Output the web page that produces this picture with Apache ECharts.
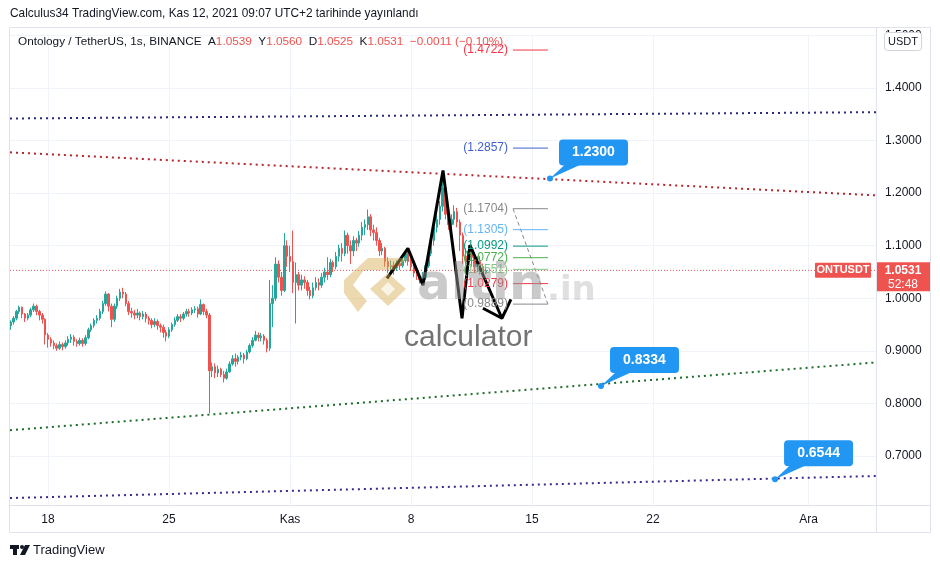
<!DOCTYPE html>
<html><head><meta charset="utf-8">
<script src="https://cdn.jsdelivr.net/npm/echarts@6/dist/echarts.min.js"></script>
<style>html,body{margin:0;padding:0;background:#fff}#c{width:940px;height:568px}</style>
</head><body><div id="c"></div>
<script>
// ---------- DATA (time = days since 1 Oct 2021 00:00, 4-hour candles) ----------
const startTime = 14 + 20 / 24;       // Oct 15 20:00
const stepDays = 4 / 24;
const firstOpen = 0.948;
const closes = [
  0.955,
  0.962,0.975,0.983,0.970,0.962,0.968,  // Oct16
  0.978,0.985,0.975,0.968,0.960,0.930,  // Oct17
  0.922,0.915,0.910,0.905,0.912,0.908,  // Oct18
  0.915,0.922,0.926,0.918,0.914,0.920,  // Oct19
  0.914,0.925,0.940,0.948,0.958,0.962,  // Oct20
  0.975,0.990,1.008,0.985,0.960,0.985,  // Oct21
  1.000,1.012,1.008,0.990,0.975,0.972,  // Oct22
  0.968,0.972,0.965,0.970,0.962,0.958,  // Oct23
  0.950,0.956,0.948,0.945,0.935,0.928,  // Oct24
  0.940,0.950,0.958,0.965,0.962,0.970,  // Oct25
  0.975,0.972,0.978,0.980,0.970,0.988,  // Oct26
  0.975,0.968,0.862,0.870,0.858,0.865,  // Oct27
  0.855,0.848,0.860,0.875,0.885,0.880,  // Oct28
  0.888,0.892,0.885,0.898,0.910,0.920,  // Oct29
  0.930,0.925,0.928,0.920,0.905,0.990,  // Oct30
  1.000,1.065,1.040,1.015,1.100,1.080,  // Oct31
  1.070,1.030,1.045,1.025,1.035,1.030,  // Nov1
  1.015,1.005,1.020,1.030,1.025,1.040,  // Nov2
  1.050,1.045,1.068,1.060,1.080,1.095,  // Nov3
  1.085,1.120,1.100,1.090,1.110,1.105,  // Nov4
  1.120,1.135,1.140,1.155,1.130,1.125,  // Nov5
  1.110,1.090,1.095,1.070,1.060,1.062,  // Nov6
  1.058,1.066,1.062,1.072,1.085,1.070,  // Nov7
  1.060,1.048,1.042,1.035,1.040,1.062,  // Nov8
  1.085,1.110,1.135,1.150,1.175,1.210,  // Nov9
  1.160,1.140,1.150,1.165,1.145,1.120,  // Nov10
  1.080,1.070,1.090,1.078,1.060,1.070,  // Nov11
  1.060,1.048,1.0531                    // Nov12
];
const highs = [
  0.958,
  0.966,0.978,0.986,0.984,0.972,0.972,
  0.982,0.990,0.988,0.978,0.972,0.962,
  0.934,0.926,0.920,0.914,0.918,0.916,
  0.920,0.928,0.932,0.930,0.922,0.925,
  0.924,0.930,0.944,0.952,0.962,0.968,
  0.980,0.995,1.013,1.010,0.990,0.990,
  1.005,1.018,1.020,1.012,0.995,0.982,
  0.978,0.980,0.975,0.976,0.974,0.966,
  0.962,0.962,0.960,0.952,0.950,0.940,
  0.945,0.954,0.964,0.970,0.970,0.974,
  0.980,0.980,0.983,0.985,0.984,0.998,
  0.990,0.980,0.972,0.878,0.876,0.872,
  0.868,0.862,0.866,0.880,0.892,0.895,
  0.892,0.898,0.896,0.902,0.914,0.926,
  0.938,0.935,0.934,0.932,0.924,1.035,
  1.025,1.078,1.072,1.050,1.124,1.110,
  1.100,1.129,1.068,1.050,1.045,1.042,
  1.035,1.022,1.030,1.040,1.038,1.048,
  1.058,1.078,1.075,1.072,1.088,1.102,
  1.105,1.129,1.125,1.110,1.118,1.115,
  1.128,1.145,1.150,1.169,1.160,1.140,
  1.135,1.115,1.105,1.098,1.078,1.072,
  1.070,1.072,1.072,1.080,1.091,1.088,
  1.075,1.064,1.055,1.048,1.050,1.066,
  1.090,1.118,1.140,1.158,1.185,1.224,
  1.215,1.170,1.160,1.177,1.172,1.150,
  1.125,1.095,1.100,1.098,1.085,1.080,
  1.080,1.066,1.060
];
const lows = [
  0.940,
  0.950,0.958,0.970,0.962,0.955,0.958,
  0.964,0.974,0.968,0.958,0.952,0.912,
  0.906,0.908,0.903,0.900,0.902,0.901,
  0.904,0.910,0.915,0.910,0.908,0.910,
  0.908,0.910,0.922,0.936,0.944,0.952,
  0.958,0.970,0.986,0.975,0.945,0.955,
  0.980,0.995,1.000,0.985,0.968,0.963,
  0.960,0.962,0.958,0.960,0.954,0.950,
  0.943,0.945,0.940,0.935,0.925,0.918,
  0.924,0.936,0.946,0.955,0.955,0.958,
  0.965,0.965,0.968,0.972,0.963,0.968,
  0.968,0.962,0.781,0.850,0.848,0.850,
  0.850,0.840,0.845,0.858,0.872,0.870,
  0.874,0.882,0.876,0.882,0.895,0.906,
  0.918,0.918,0.918,0.912,0.897,0.900,
  0.945,0.995,1.030,1.005,1.012,1.060,
  1.050,1.010,0.952,1.015,1.015,1.018,
  1.005,0.998,1.000,1.015,1.015,1.020,
  1.030,1.035,1.040,1.050,1.055,1.070,
  1.070,1.080,1.085,1.065,1.080,1.090,
  1.098,1.110,1.120,1.130,1.118,1.110,
  1.100,1.080,1.082,1.060,1.048,1.050,
  1.045,1.052,1.054,1.058,1.068,1.062,
  1.052,1.040,1.035,1.028,1.030,1.036,
  1.058,1.080,1.100,1.125,1.140,1.165,
  1.150,1.130,1.132,1.140,1.135,1.090,
  1.065,1.040,1.062,1.060,1.048,1.050,
  1.045,1.040,1.046
];
const lastPrice = 1.0531;
const legendValues = ['1.0539', '1.0560', '1.0525', '1.0531', '\u22120.0011 (\u22120.10%)'];

const xTickValues = [17, 24, 31, 38, 45, 52, 61];
const xTickLabels = ['18', '25', 'Kas', '8', '15', '22', 'Ara'];
const xMin = 14.8, xMax = 64.9;
const yMin = 0.6, yMax = 1.5, yInterval = 0.1;

// drawn trend lines [time, price]
const trendNavy   = [[14.8, 1.342], [64.9, 1.354]];
const trendRed    = [[14.8, 1.2776], [64.9, 1.1958]];
const trendGreen  = [[14.8, 0.749], [64.9, 0.878]];
const trendPurple = [[14.8, 0.620], [64.9, 0.662]];
// callouts: anchor [time, price] and text
const calloutPoints = [[46.04, 1.228], [48.99, 0.833], [59.06, 0.656]];
const calloutTexts  = ['1.2300', '0.8334', '0.6544'];
// fib levels
const fibLevels = [1.4722, 1.2857, 1.1704, 1.1305, 1.0992, 1.0772, 1.0551, 1.0279, 0.9889];
const fibRange  = [43.9, 45.92];
// zigzag drawing
const zigzag = [[36.61, 1.038], [37.82, 1.095], [38.69, 1.025], [39.85, 1.243], [40.95, 0.962], [41.41, 1.101], [43.26, 0.962]];
const arrowHead = [[42.16, 0.981], [43.26, 0.962], [43.78, 0.998]];

// ---------- STYLE ----------
const FONT = '"Liberation Sans", Arial, sans-serif';
const WM_FONT = '"DejaVu Sans", sans-serif';
const TXT = '#131722';
const UP = '#26a69a', DOWN = '#ef5350';
const fibColors = ['#f23645', '#3f5fd0', '#8a8a8a', '#64b5f6', '#089981', '#4caf50', '#81c784', '#f23645', '#8a8a8a'];

const candleData = closes.map((c, i) => {
  const o = i === 0 ? firstOpen : closes[i - 1];
  return [startTime + i * stepDays, o, c, lows[i], highs[i]];
});

const chart = echarts.init(document.getElementById('c'));

function lineSeries(data, color, width, type, z) {
  return { type: 'line', data, symbol: 'none', silent: true, z: z || 3,
    lineStyle: { color, width, type }, animation: false };
}

const series = [
  { type: 'candlestick', data: candleData, encode: { x: 0, y: [1, 2, 3, 4] }, barWidth: 2, z: 2,
    itemStyle: { color: UP, color0: DOWN, borderColor: UP, borderColor0: DOWN, borderWidth: 1 } },
  lineSeries([[xMin, lastPrice], [xMax, lastPrice]], DOWN, 1, [1, 2], 2),
  lineSeries(trendNavy, '#2b2a7e', 2, [2, 4]),
  lineSeries(trendRed, '#b4262a', 2, [2, 4]),
  lineSeries(trendGreen, '#1f6b2a', 2, [2, 4]),
  lineSeries(trendPurple, '#3b2a8e', 2, [2, 4]),
  lineSeries([[fibRange[0], fibLevels[2]], [fibRange[1], fibLevels[8]]], '#8a8a8a', 1, [4, 3]),
  lineSeries(zigzag, '#000000', 3, 'solid', 6),
  lineSeries(arrowHead, '#000000', 3, 'solid', 6)
];
fibLevels.forEach((lv, i) => series.push(lineSeries([[fibRange[0], lv], [fibRange[1], lv]], fibColors[i], 1, 'solid')));

chart.setOption({
  animation: false,
  backgroundColor: '#ffffff',
  grid: { left: 10, right: 64, top: 35.43, bottom: 59.43 },
  xAxis: {
    type: 'value', min: xMin, max: xMax,
    axisLine: { show: false },
    axisTick: { show: false, customValues: xTickValues },
    axisLabel: { customValues: xTickValues, formatter: v => { const k = xTickValues.indexOf(v); return k >= 0 ? xTickLabels[k] : ''; },
      color: TXT, fontSize: 12, fontFamily: FONT, margin: 5 },
    splitLine: { show: true, lineStyle: { color: '#f0f3fa', width: 1 } }
  },
  yAxis: {
    type: 'value', position: 'right', min: yMin, max: yMax, interval: yInterval,
    axisLine: { show: false }, axisTick: { show: false },
    axisLabel: { formatter: v => Math.abs(v - yMin) < 1e-6 ? '' : v.toFixed(4), color: TXT, fontSize: 12, fontFamily: FONT, margin: 9 },
    splitLine: { show: true, showMinLine: false, lineStyle: { color: '#f0f3fa', width: 1 } }
  },
  series
});

const px = p => chart.convertToPixel({ gridIndex: 0 }, p);
const g = [];
// frame
g.push({ type: 'rect', shape: { x: 10, y: 505.5, width: 866, height: 4 }, style: { fill: '#fff' }, z: 40 });
g.push({ type: 'rect', shape: { x: 9.5, y: 27.5, width: 921, height: 505 }, style: { fill: null, stroke: '#e0e3eb', lineWidth: 1 }, z: 41 });
g.push({ type: 'line', shape: { x1: 876.5, y1: 27.5, x2: 876.5, y2: 532.5 }, style: { stroke: '#e0e3eb', lineWidth: 1 }, z: 41 });
g.push({ type: 'line', shape: { x1: 9.5, y1: 505.5, x2: 930.5, y2: 505.5 }, style: { stroke: '#e0e3eb', lineWidth: 1 }, z: 41 });
// header
g.push({ type: 'text', x: 10, y: 14, style: { text: 'Calculus34 TradingView.com, Kas 12, 2021 09:07 UTC+2 tarihinde yay\u0131nland\u0131', fontSize: 11.85, fontFamily: FONT, fill: TXT, verticalAlign: 'middle' }, z: 50 });
// legend (segments placed one after another using measured widths)
const LSIZE = 11.75;
const mctx = document.createElement('canvas').getContext('2d');
mctx.font = LSIZE + 'px ' + FONT;
const segs = [
  ['Ontology / TetherUS, 1s, BINANCE  A', TXT], [legendValues[0], DOWN],
  ['  Y', TXT], [legendValues[1], DOWN], ['  D', TXT], [legendValues[2], DOWN],
  ['  K', TXT], [legendValues[3], DOWN], ['  ' + legendValues[4], DOWN]
];
let lx = 18;
segs.forEach(([t, c]) => {
  g.push({ type: 'text', x: lx, y: 42, z: 50, style: { text: t, fontSize: LSIZE, fontFamily: FONT, fill: c, verticalAlign: 'middle' } });
  lx += mctx.measureText(t).width;
});
// fib labels
fibLevels.forEach((lv, i) => {
  const p = px([fibRange[0], lv]);
  g.push({ type: 'text', x: p[0] - 5, y: p[1], z: 30, style: { text: '(' + lv.toFixed(4) + ')', fontSize: 12, fontFamily: FONT, fill: fibColors[i], align: 'right', verticalAlign: 'middle' } });
});
// callouts
calloutPoints.forEach((pt, i) => {
  const p = px(pt);
  const bx = p[0] + 9, by = p[1] - 39, bw = 69, bh = 26;
  g.push({ type: 'polygon', z: 45, shape: { points: [[bx + 6, by + bh - 1], [bx + 22, by + bh - 1], p] }, style: { fill: '#2196f3' } });
  g.push({ type: 'circle', z: 46, shape: { cx: p[0], cy: p[1], r: 3 }, style: { fill: '#2196f3' } });
  g.push({ type: 'rect', z: 45, shape: { x: bx, y: by, width: bw, height: bh, r: 4 }, style: { fill: '#2196f3' } });
  g.push({ type: 'text', z: 47, x: bx + bw / 2, y: by + bh / 2, style: { text: calloutTexts[i], fontSize: 14, fontWeight: 'bold', fontFamily: FONT, fill: '#fff', align: 'center', verticalAlign: 'middle' } });
});
// last price labels
const lp = px([xMax, lastPrice]);
g.push({ type: 'rect', z: 45, shape: { x: 815, y: lp[1] - 7.5, width: 56, height: 15, r: 1 }, style: { fill: DOWN } });
g.push({ type: 'text', z: 46, x: 843, y: lp[1], style: { text: 'ONTUSDT', fontSize: 11, fontWeight: 'bold', fontFamily: FONT, fill: '#fff', align: 'center', verticalAlign: 'middle' } });
g.push({ type: 'rect', z: 45, shape: { x: 877, y: lp[1] - 8, width: 53, height: 29 }, style: { fill: DOWN } });
g.push({ type: 'text', z: 46, x: 903, y: lp[1], style: { text: lastPrice.toFixed(4), fontSize: 12, fontWeight: 'bold', fontFamily: FONT, fill: '#fff', align: 'center', verticalAlign: 'middle' } });
g.push({ type: 'text', z: 46, x: 903, y: lp[1] + 14, style: { text: '52:48', fontSize: 12, fontFamily: FONT, fill: '#fff', align: 'center', verticalAlign: 'middle' } });
// USDT box
g.push({ type: 'rect', z: 45, shape: { x: 884.5, y: 32.5, width: 37, height: 18, r: 3 }, style: { fill: '#fff', stroke: '#d1d4dc', lineWidth: 1 } });
g.push({ type: 'text', z: 46, x: 903, y: 42, style: { text: 'USDT', fontSize: 11, fontFamily: FONT, fill: TXT, align: 'center', verticalAlign: 'middle' } });
// watermark
g.push({ type: 'polygon', z: 60, shape: { points: [[368, 258], [408, 258], [394, 270], [364, 270], [353, 285], [367, 301], [358, 312], [344, 293], [344, 280]] }, style: { fill: 'rgba(215,170,80,0.45)' } });
g.push({ type: 'polygon', z: 60, shape: { points: [[388, 273], [406, 289], [388, 306], [370, 289]] }, style: { fill: 'rgba(215,170,80,0.45)' } });
g.push({ type: 'polygon', z: 61, shape: { points: [[388, 282], [395, 289], [388, 296], [381, 289]] }, style: { fill: 'rgba(255,255,255,0.7)' } });
g.push({ type: 'text', z: 60, x: 417, y: 286, style: { text: 'altin', fontSize: 50, fontWeight: 'bold', fontFamily: WM_FONT, fill: 'rgba(150,150,150,0.5)', verticalAlign: 'middle' } });
g.push({ type: 'text', z: 60, x: 547, y: 291, style: { text: '.in', fontSize: 34, fontWeight: 'bold', fontFamily: WM_FONT, fill: 'rgba(165,165,165,0.35)', verticalAlign: 'middle' } });
g.push({ type: 'text', z: 60, x: 404, y: 338, style: { text: 'calculator', fontSize: 30, fontFamily: FONT, fill: 'rgba(100,100,100,0.9)', verticalAlign: 'middle' } });
// footer logo
g.push({ type: 'rect', z: 50, shape: { x: 10, y: 545, width: 9, height: 4 }, style: { fill: TXT } });
g.push({ type: 'rect', z: 50, shape: { x: 13, y: 545, width: 4, height: 10 }, style: { fill: TXT } });
g.push({ type: 'circle', z: 50, shape: { cx: 22, cy: 547, r: 2 }, style: { fill: TXT } });
g.push({ type: 'polygon', z: 50, shape: { points: [[25, 545], [30, 545], [25, 555], [20, 555]] }, style: { fill: TXT } });
g.push({ type: 'text', z: 50, x: 33, y: 550, style: { text: 'TradingView', fontSize: 13, fontFamily: FONT, fill: TXT, verticalAlign: 'middle' } });

chart.setOption({ graphic: { elements: g } });
</script></body></html>
